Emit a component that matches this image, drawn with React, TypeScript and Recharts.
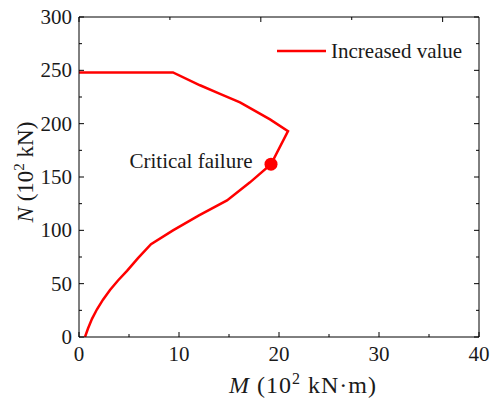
import { ComposedChart, Line, XAxis, YAxis, ReferenceDot, Legend, Label } from "recharts";

const CHART_WIDTH = 491;
const CHART_HEIGHT = 403;
const SERIF = "'Times New Roman', 'Liberation Serif', serif";
const RED = "#ff0000";
const INK = "#1a1a1a";
const MAJOR_TICK = 5;
const MINOR_TICK = 3;

// M (10^2 kN·m) and N (10^2 kN), in drawing order
const momentValues = [0.6, 0.9, 1.3, 1.8, 2.4, 3.1, 3.9, 4.8, 5.9, 7.2, 9.4, 12.0, 14.8, 17.1, 19.2, 20.9, 19.1, 17.6, 16.1, 14.1, 12.1, 9.4, 0];
const axialValues = [0, 8, 17, 26, 35, 44, 53, 62, 74, 87, 100, 114, 128, 145, 162, 193, 204, 212, 220, 228, 236, 248, 248];

const criticalMoment = [19.2];
const criticalAxial = [162];
const criticalLabel = ["Critical failure"];
const seriesName = "Increased value";

const xMajorTicks = [0, 10, 20, 30, 40];
const xMinorTicks = [5, 15, 25, 35];
const yMajorTicks = [0, 50, 100, 150, 200, 250, 300];
const yMinorTicks = [25, 75, 125, 175, 225, 275];

const xTicks = [...xMajorTicks, ...xMinorTicks].sort((a, b) => a - b);
const yTicks = [...yMajorTicks, ...yMinorTicks].sort((a, b) => a - b);

const data = momentValues.map((m, i) => ({ m, n: axialValues[i] }));

type Side = "bottom" | "top" | "left" | "right";

function makeTick(side: Side, majors: number[], withLabel: boolean) {
  return (props: any) => {
    const { x, y, payload } = props;
    const major = majors.includes(payload.value);
    const len = major ? MAJOR_TICK : MINOR_TICK;
    let x2 = x;
    let y2 = y;
    if (side === "bottom") y2 = y - len;
    else if (side === "top") y2 = y + len;
    else if (side === "left") x2 = x + len;
    else x2 = x - len;
    let label = null;
    if (withLabel && major) {
      label =
        side === "bottom" ? (
          <text x={x} y={y + 24} textAnchor="middle" fontFamily={SERIF} fontSize={21} fill={INK}>
            {payload.value}
          </text>
        ) : (
          <text x={x - 7} y={y + 7} textAnchor="end" fontFamily={SERIF} fontSize={21} fill={INK}>
            {payload.value}
          </text>
        );
    }
    return (
      <g>
        <line x1={x} y1={y} x2={x2} y2={y2} stroke="#000" strokeWidth={1} />
        {label}
      </g>
    );
  };
}

function XTitle(props: any) {
  const vb = props.viewBox;
  const cx = vb.x + vb.width / 2 + 24;
  return (
    <text x={cx} y={vb.y + 56} textAnchor="middle" fontFamily={SERIF} fontSize={24} fill={INK} letterSpacing={1}>
      <tspan fontStyle="italic">M</tspan>
      <tspan> (10</tspan>
      <tspan fontSize={16} dy={-9}>2</tspan>
      <tspan dy={9}> kN·m)</tspan>
    </text>
  );
}

function YTitle(props: any) {
  const vb = props.viewBox;
  const x = vb.x + 33;
  const y = vb.y + vb.height / 2 - 5;
  return (
    <text x={x} y={y} transform={`rotate(-90, ${x}, ${y})`} textAnchor="middle" fontFamily={SERIF} fontSize={23} fill={INK}>
      <tspan fontStyle="italic">N</tspan>
      <tspan> (10</tspan>
      <tspan fontSize={15} dy={-9}>2</tspan>
      <tspan dy={9}> kN)</tspan>
    </text>
  );
}

function CriticalLabel(props: any) {
  const vb = props.viewBox;
  const cy = vb.y + vb.height / 2;
  return (
    <text x={vb.x - 12} y={cy + 4} textAnchor="end" fontFamily={SERIF} fontSize={21} fill={INK}>
      {criticalLabel[0]}
    </text>
  );
}

function LegendContent(props: any) {
  const item = props.payload?.[0];
  return (
    <svg width={200} height={30}>
      <line x1={1} x2={50} y1={15} y2={15} stroke={item?.color ?? RED} strokeWidth={2.5} />
      <text x={55} y={22} fontFamily={SERIF} fontSize={21} fill={INK}>
        {item?.value ?? seriesName}
      </text>
    </svg>
  );
}

export default function App() {
  return (
    <div style={{ width: CHART_WIDTH, height: CHART_HEIGHT, background: "#fff" }}>
      <style>{"body{margin:0}"}</style>
      <ComposedChart width={CHART_WIDTH} height={CHART_HEIGHT} data={data} margin={{ top: 16, right: 11, bottom: 0, left: 0 }}>
        <XAxis
          dataKey="m"
          type="number"
          domain={[0, 40]}
          ticks={xTicks}
          interval={0}
          height={66}
          tickSize={0}
          tickMargin={0}
          tickLine={false}
          tick={makeTick("bottom", xMajorTicks, true)}
          axisLine={{ stroke: "#000", strokeWidth: 1 }}
          allowDataOverflow
        >
          <Label content={XTitle} />
        </XAxis>
        <XAxis
          xAxisId="top"
          orientation="top"
          type="number"
          domain={[0, 40]}
          ticks={xTicks}
          interval={0}
          height={1}
          tickSize={0}
          tickMargin={0}
          tickLine={false}
          tick={makeTick("top", xMajorTicks, false)}
          axisLine={{ stroke: "#000", strokeWidth: 1 }}
          allowDataOverflow
        />
        <YAxis
          type="number"
          domain={[0, 300]}
          ticks={yTicks}
          interval={0}
          width={79}
          tickSize={0}
          tickMargin={0}
          tickLine={false}
          tick={makeTick("left", yMajorTicks, true)}
          axisLine={{ stroke: "#000", strokeWidth: 1 }}
          allowDataOverflow
        >
          <Label content={YTitle} />
        </YAxis>
        <YAxis
          yAxisId="right"
          orientation="right"
          type="number"
          domain={[0, 300]}
          ticks={yTicks}
          interval={0}
          width={1}
          tickSize={0}
          tickMargin={0}
          tickLine={false}
          tick={makeTick("right", yMajorTicks, false)}
          axisLine={{ stroke: "#000", strokeWidth: 1 }}
          allowDataOverflow
        />
        <Line
          dataKey="n"
          name={seriesName}
          type="linear"
          stroke={RED}
          strokeWidth={2.5}
          dot={false}
          activeDot={false}
          legendType="line"
          isAnimationActive={false}
        />
        <ReferenceDot x={criticalMoment[0]} y={criticalAxial[0]} r={6.5} fill={RED} stroke="none">
          <Label content={CriticalLabel} />
        </ReferenceDot>
        <Legend
          layout="horizontal"
          verticalAlign="middle"
          align="center"
          wrapperStyle={{ position: "absolute", top: 36, left: 276, width: 200, height: 30 }}
          content={LegendContent}
        />
      </ComposedChart>
    </div>
  );
}
